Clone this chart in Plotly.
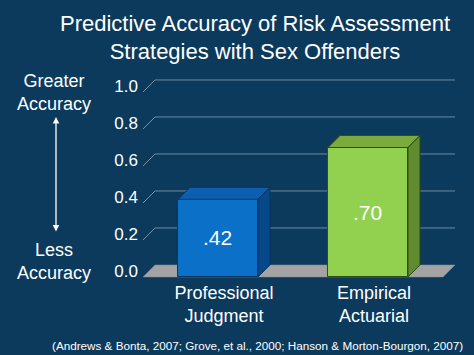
import plotly.graph_objects as go

# ---- data ----
categories = ["Professional<br>Judgment", "Empirical<br>Actuarial"]
values = [0.42, 0.70]
tick_values = [0.0, 0.2, 0.4, 0.6, 0.8, 1.0]
tick_labels = ["0.0", "0.2", "0.4", "0.6", "0.8", "1.0"]

front_colors = ["#0a70c8", "#92d050"]
top_colors = ["#0b5fae", "#7bab3c"]
side_colors = ["#05498a", "#5f8c2e"]
edge_colors = ["#0a3563", "#2f4d16"]

BG = "#0b3a5c"
W = 0.533      # bar width (x units)
DX = 0.08      # depth offset in x units
DY = 0.065     # depth offset in y units

xs = list(range(len(values)))
fig = go.Figure()

# front faces as real bars
fig.add_trace(go.Bar(
    x=xs, y=values, width=W,
    marker=dict(color=front_colors, line=dict(color=edge_colors, width=1)),
    text=[f"{v:.2f}".lstrip("0") for v in values],
    textposition="inside", insidetextanchor="middle",
    textfont=dict(color="white", size=21, family="Liberation Sans, Arial, sans-serif"),
    constraintext="none", hoverinfo="skip", showlegend=False,
))

# top and side faces (depth) computed from values
for i, v in enumerate(values):
    l, r = xs[i] - W / 2, xs[i] + W / 2
    fig.add_trace(go.Scatter(
        x=[l, l + DX, r + DX, r, l], y=[v, v + DY, v + DY, v, v],
        fill="toself", fillcolor=top_colors[i], mode="lines",
        line=dict(color=edge_colors[i], width=1), hoverinfo="skip", showlegend=False))
    fig.add_trace(go.Scatter(
        x=[r, r, r + DX, r + DX, r], y=[0, v, v + DY, DY, 0],
        fill="toself", fillcolor=side_colors[i], mode="lines",
        line=dict(color=edge_colors[i], width=1), hoverinfo="skip", showlegend=False))

XL, XR = -0.5, 1.5
shapes = []
# back-wall gridlines with slanted stubs
for t in tick_values[1:]:
    shapes.append(dict(type="line", xref="x", yref="y", layer="below",
                       x0=XL, y0=t, x1=XL + DX, y1=t + DY,
                       line=dict(color="#7a93a8", width=1)))
    shapes.append(dict(type="line", xref="x", yref="y", layer="below",
                       x0=XL + DX, y0=t + DY, x1=XR + DX, y1=t + DY,
                       line=dict(color="#6f8aa0", width=1)))
# floor
shapes.append(dict(type="path", xref="x", yref="y", layer="below",
                   path=f"M {XL},0 L {XL+DX},{DY} L {XR+DX},{DY} L {XR},0 Z",
                   fillcolor="#a3a3a3", line=dict(color="#8a8a8a", width=0.5)))

font = "Liberation Sans, Arial, sans-serif"

def py(p):  # pixel y -> paper y (plot area 70..280)
    return (280 - p) / 210

def px(p):  # pixel x -> paper x (plot area 143..458)
    return (p - 143) / 315

annotations = [
    dict(text="Greater<br>Accuracy", x=px(54), y=py(92), xref="paper", yref="paper",
         showarrow=False, font=dict(color="white", size=18, family=font), xanchor="center", yanchor="middle"),
    dict(text="Less<br>Accuracy", x=px(54), y=py(261), xref="paper", yref="paper",
         showarrow=False, font=dict(color="white", size=18, family=font), xanchor="center", yanchor="middle"),
    dict(text="", x=px(56), y=py(117), xref="paper", yref="paper",
         ax=0, ay=116, showarrow=True, arrowside="end+start", arrowhead=2,
         arrowsize=1, arrowwidth=1.3, arrowcolor="white"),
    dict(text="(Andrews &amp; Bonta, 2007; Grove, et al., 2000; Hanson &amp; Morton-Bourgon, 2007)",
         x=px(257), y=py(345), xref="paper", yref="paper", showarrow=False,
         font=dict(color="white", size=11.7, family=font), xanchor="center", yanchor="middle"),
]

fig.update_layout(
    width=474, height=355,
    margin=dict(l=143, r=16, t=70, b=75),
    paper_bgcolor=BG, plot_bgcolor=BG,
    title=dict(text="Predictive Accuracy of Risk Assessment<br>Strategies with Sex Offenders",
               x=255 / 474, xanchor="center", y=1 - 30.5 / 355, yanchor="middle",
               yref="container",
               font=dict(color="white", size=22, family=font)),
    xaxis=dict(range=[XL, XR + DX + 0.02], tickmode="array",
               tickvals=[x + DX / 2 for x in xs], ticktext=categories,
               showgrid=False, zeroline=False, showline=False, ticks="",
               tickfont=dict(color="white", size=18, family=font)),
    yaxis=dict(range=[-3 / 185, 207 / 185], tickmode="array",
               tickvals=[t + DY / 2 for t in tick_values], ticktext=tick_labels,
               showgrid=False, zeroline=False, showline=False, ticks="",
               ticklabelstandoff=4,
               tickfont=dict(color="white", size=17, family=font)),
    shapes=shapes, annotations=annotations, showlegend=False,
    bargap=0,
)

fig.write_html("out.html", config={"displayModeBar": False},
               post_script="document.body.style.margin='0';document.body.style.background='" + BG + "';")
